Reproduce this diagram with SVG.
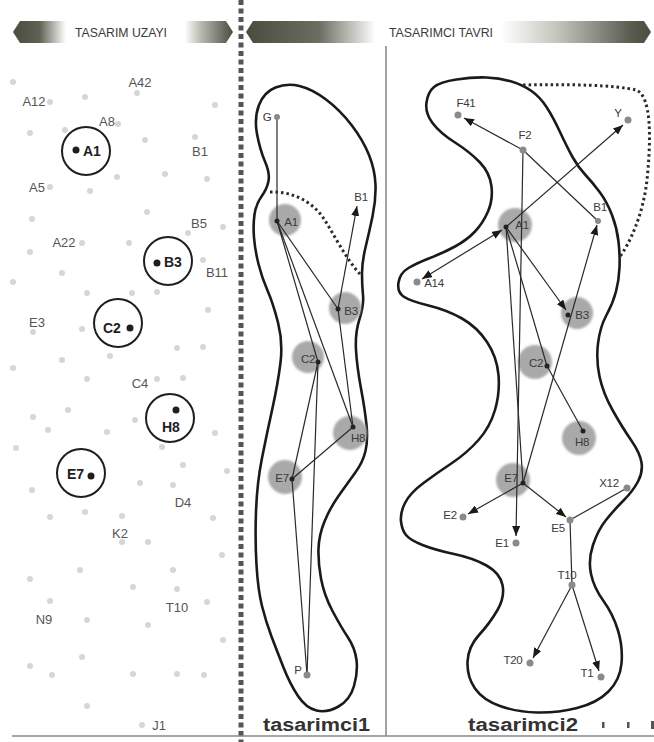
<svg xmlns="http://www.w3.org/2000/svg" width="654" height="742" viewBox="0 0 654 742">
<style>
  text { font-family: "Liberation Sans", Arial, sans-serif; }
  .lbl { font-size: 13px; fill: #555; text-anchor: middle; }
  .big { font-size: 14px; font-weight: bold; fill: #1e1e1e; }
  .nl { font-size: 11.5px; fill: #3a3a3a; text-anchor: middle; letter-spacing: -0.3px; }
  .sd { fill: #d6d6d6; }
  .ring { fill: none; stroke: #1e1e1e; stroke-width: 2; }
  .bd { fill: #1e1e1e; }
  .gc { fill: #a9a9a9; filter: url(#soft); }
  .gd { fill: #8a8a8a; }
  .pt { fill: #222; }
  .blob { fill: none; stroke: #1a1a1a; stroke-width: 2.6; }
  .dots { fill: none; stroke: #2a2a2a; stroke-width: 3; stroke-dasharray: 2.5 3; }
  .e { stroke: #2a2a2a; stroke-width: 1.2; fill: none; }
  .a { marker-end: url(#arr); }
  .ban { font-size: 13px; fill: #3a3a3a; }
  .foot { font-size: 18px; font-weight: bold; fill: #333; }
</style>
<defs>
  <filter id="soft" x="-20%" y="-20%" width="140%" height="140%">
    <feGaussianBlur stdDeviation="1"/>
  </filter>
  <marker id="arr" markerUnits="userSpaceOnUse" markerWidth="10" markerHeight="8" refX="10" refY="4" orient="auto-start-reverse">
    <path d="M0,0 L10,4 L0,8 Z" fill="#1a1a1a"/>
  </marker>
  <linearGradient id="gl" gradientUnits="userSpaceOnUse" x1="13" y1="0" x2="233" y2="0">
    <stop offset="0" stop-color="#4a4c40"/>
    <stop offset="0.12" stop-color="#5f6154"/>
    <stop offset="0.24" stop-color="#ffffff"/>
    <stop offset="0.78" stop-color="#ffffff"/>
    <stop offset="0.86" stop-color="#b4b4ac"/>
    <stop offset="1" stop-color="#4a4c40"/>
  </linearGradient>
  <linearGradient id="gr" gradientUnits="userSpaceOnUse" x1="246" y1="0" x2="651" y2="0">
    <stop offset="0" stop-color="#4a4c40"/>
    <stop offset="0.18" stop-color="#6b6d60"/>
    <stop offset="0.32" stop-color="#ffffff"/>
    <stop offset="0.63" stop-color="#ffffff"/>
    <stop offset="0.77" stop-color="#c4c4bc"/>
    <stop offset="0.95" stop-color="#5a5c50"/>
    <stop offset="1" stop-color="#4a4c40"/>
  </linearGradient>
</defs>
<rect x="0" y="0" width="654" height="742" fill="#ffffff"/>

<!-- headers -->
<g id="header-left">
  <polygon points="13,32 20,21 226,21 233,32 226,43 20,43" fill="url(#gl)"/>
  <text class="ban" x="75" y="37" textLength="92" lengthAdjust="spacingAndGlyphs">TASARIM UZAYI</text>
</g>
<g id="header-right">
  <polygon points="246,32 253,21 644,21 651,32 644,43 253,43" fill="url(#gr)"/>
  <text class="ban" x="389" y="37" textLength="104" lengthAdjust="spacingAndGlyphs">TASARIMCI TAVRI</text>
</g>

<!-- frame lines -->
<g id="frame">
  <line x1="241" y1="0" x2="241" y2="742" stroke="#555" stroke-width="5" stroke-dasharray="5 3.5"/>
  <line x1="386" y1="46" x2="386" y2="736" stroke="#666" stroke-width="1.2"/>
  <line x1="12" y1="736" x2="654" y2="736" stroke="#888" stroke-width="1.5"/>
  <rect x="602" y="722" width="2.5" height="6" fill="#555"/>
  <rect x="627" y="722" width="2.5" height="6" fill="#555"/>
  <rect x="651" y="721" width="3" height="8" fill="#555"/>
</g>

<!-- left panel scatter -->
<g id="scatter">
  <circle class="sd" cx="13" cy="82" r="3"/><circle class="sd" cx="85" cy="97" r="3"/><circle class="sd" cx="215" cy="105" r="3"/>
  <circle class="sd" cx="30" cy="133" r="3"/><circle class="sd" cx="65" cy="130" r="3"/><circle class="sd" cx="145" cy="140" r="3"/>
  <circle class="sd" cx="117" cy="177" r="3"/><circle class="sd" cx="165" cy="174" r="3"/><circle class="sd" cx="207" cy="179" r="3"/>
  <circle class="sd" cx="90" cy="191" r="3"/><circle class="sd" cx="147" cy="212" r="3"/><circle class="sd" cx="32" cy="219" r="3"/>
  <circle class="sd" cx="223" cy="227" r="3"/><circle class="sd" cx="30" cy="252" r="3"/><circle class="sd" cx="129" cy="243" r="3"/>
  <circle class="sd" cx="62" cy="273" r="3"/><circle class="sd" cx="13" cy="282" r="3"/><circle class="sd" cx="87" cy="293" r="3"/>
  <circle class="sd" cx="132" cy="293" r="3"/><circle class="sd" cx="157" cy="292" r="3"/>
  <circle class="sd" cx="82" cy="329" r="3"/><circle class="sd" cx="62" cy="360" r="3"/><circle class="sd" cx="110" cy="356" r="3"/>
  <circle class="sd" cx="177" cy="348" r="3"/><circle class="sd" cx="203" cy="347" r="3"/><circle class="sd" cx="208" cy="310" r="3"/>
  <circle class="sd" cx="13" cy="368" r="3"/><circle class="sd" cx="87" cy="379" r="3"/><circle class="sd" cx="157" cy="379" r="3"/>
  <circle class="sd" cx="183" cy="378" r="3"/><circle class="sd" cx="33" cy="417" r="3"/><circle class="sd" cx="68" cy="410" r="3"/>
  <circle class="sd" cx="48" cy="430" r="3"/><circle class="sd" cx="107" cy="432" r="3"/><circle class="sd" cx="135" cy="420" r="3"/>
  <circle class="sd" cx="215" cy="433" r="3"/><circle class="sd" cx="16" cy="448" r="3"/><circle class="sd" cx="162" cy="447" r="3"/>
  <circle class="sd" cx="183" cy="465" r="3"/><circle class="sd" cx="227" cy="471" r="3"/><circle class="sd" cx="32" cy="490" r="3"/>
  <circle class="sd" cx="140" cy="483" r="3"/><circle class="sd" cx="173" cy="485" r="3"/><circle class="sd" cx="50" cy="517" r="3"/>
  <circle class="sd" cx="85" cy="512" r="3"/><circle class="sd" cx="122" cy="516" r="3"/><circle class="sd" cx="213" cy="518" r="3"/>
  <circle class="sd" cx="122" cy="542" r="3"/><circle class="sd" cx="148" cy="542" r="3"/><circle class="sd" cx="222" cy="555" r="3"/>
  <circle class="sd" cx="80" cy="570" r="3"/><circle class="sd" cx="173" cy="570" r="3"/><circle class="sd" cx="30" cy="579" r="3"/>
  <circle class="sd" cx="133" cy="587" r="3"/><circle class="sd" cx="177" cy="589" r="3"/><circle class="sd" cx="50" cy="601" r="3"/>
  <circle class="sd" cx="207" cy="602" r="3"/><circle class="sd" cx="87" cy="620" r="3"/><circle class="sd" cx="148" cy="625" r="3"/>
  <circle class="sd" cx="223" cy="640" r="3"/><circle class="sd" cx="82" cy="657" r="3"/><circle class="sd" cx="30" cy="666" r="3"/>
  <circle class="sd" cx="133" cy="674" r="3"/><circle class="sd" cx="177" cy="674" r="3"/><circle class="sd" cx="204" cy="675" r="3"/>
  <circle class="sd" cx="52" cy="675" r="3"/><circle class="sd" cx="87" cy="706" r="3"/>
</g>

<!-- left panel labelled points -->
<g id="s-A42"><circle class="sd" cx="137" cy="93" r="3"/><text class="lbl" x="140" y="86.5">A42</text></g>
<g id="s-A12"><circle class="sd" cx="50" cy="102" r="3"/><text class="lbl" x="34" y="105.5">A12</text></g>
<g id="s-A8"><circle class="sd" cx="118" cy="124" r="3"/><text class="lbl" x="107" y="125.5">A8</text></g>
<g id="s-B1"><circle class="sd" cx="195" cy="137" r="3"/><text class="lbl" x="200" y="155.5">B1</text></g>
<g id="s-A5"><circle class="sd" cx="50" cy="187" r="3"/><text class="lbl" x="37" y="191.5">A5</text></g>
<g id="s-B5"><circle class="sd" cx="188" cy="233" r="3"/><text class="lbl" x="199" y="227.5">B5</text></g>
<g id="s-A22"><circle class="sd" cx="82" cy="243" r="3"/><text class="lbl" x="64" y="246.5">A22</text></g>
<g id="s-B11"><circle class="sd" cx="203" cy="260" r="3"/><text class="lbl" x="217" y="276.5">B11</text></g>
<g id="s-E3"><circle class="sd" cx="33" cy="332" r="3"/><text class="lbl" x="37" y="326.5">E3</text></g>
<g id="s-C4"><text class="lbl" x="140" y="387.5">C4</text></g>
<g id="s-D4"><text class="lbl" x="183" y="506.5">D4</text></g>
<g id="s-K2"><text class="lbl" x="120" y="537.5">K2</text></g>
<g id="s-N9"><text class="lbl" x="44" y="623.5">N9</text></g>
<g id="s-T10"><text class="lbl" x="177" y="611.5">T10</text></g>
<g id="s-J1"><circle class="sd" cx="142" cy="725" r="3"/><text class="lbl" x="159" y="729.5">J1</text></g>

<g id="s-A1"><circle class="ring" cx="86" cy="151" r="24"/><circle class="bd" cx="76" cy="150" r="3.5"/><text class="big" x="83" y="156">A1</text></g>
<g id="s-B3"><circle class="ring" cx="168" cy="261" r="24"/><circle class="bd" cx="157" cy="263" r="3.5"/><text class="big" x="164" y="267">B3</text></g>
<g id="s-C2"><circle class="ring" cx="118" cy="323" r="24"/><circle class="bd" cx="130" cy="328" r="3.5"/><text class="big" x="103" y="333">C2</text></g>
<g id="s-H8"><circle class="ring" cx="170" cy="418" r="24"/><circle class="bd" cx="176" cy="410" r="3.5"/><text class="big" x="162" y="432">H8</text></g>
<g id="s-E7"><circle class="ring" cx="81" cy="473" r="24"/><circle class="bd" cx="91" cy="476" r="3.5"/><text class="big" x="67" y="479">E7</text></g>

<!-- middle panel -->
<g id="blob1">
  <path class="blob" d="M 275.5,87.5 Q 287,83 299.5,86 Q 312,89 326,99.5 Q 340,110 351.5,125 Q 363,140 369,155 Q 375,170 375.5,185 Q 376,200 372.5,216.5 Q 369,233 365.5,247.5 Q 362,262 362,273.5 Q 362,285 363,295 Q 364,305 359.5,319 Q 355,333 356,350 Q 357,367 361,388.5 Q 365,410 366.5,425 Q 368,440 365.5,451 Q 363,462 355,473 Q 347,484 338.5,496 Q 330,508 324.5,521.5 Q 319,535 318.5,548.5 Q 318,562 321,578.5 Q 324,595 332.5,611 Q 341,627 348,637.5 Q 355,648 356.5,660 Q 358,672 354,686 Q 350,700 338.5,706.5 Q 327,713 316.5,710.5 Q 306,708 298,696 Q 290,684 283.5,667.5 Q 277,651 271.5,636.5 Q 266,622 262,606 Q 258,590 256.5,565 Q 255,540 256,511.5 Q 257,483 262,458 Q 267,433 272.5,408 Q 278,383 280.5,362.5 Q 283,342 278,322.5 Q 273,303 267.5,290.5 Q 262,278 258.5,264 Q 255,250 254,237.5 Q 253,225 254.5,214.5 Q 256,204 261.5,196.5 Q 267,189 268.5,181 Q 270,173 265,161.5 Q 260,150 257,134 Q 254,118 259,105 Q 264,92 275.5,87.5 Z"/>
  <path class="dots" d="M 270,192 C 290,191 310,200 322,216 C 333,232 345,258 360,274"/>
</g>
<g id="m-circles">
  <circle class="gc" cx="285" cy="220" r="16"/>
  <circle class="gc" cx="345" cy="308" r="16"/>
  <circle class="gc" cx="308" cy="357" r="16"/>
  <circle class="gc" cx="350" cy="433" r="17"/>
  <circle class="gc" cx="285" cy="477" r="17"/>
</g>
<g id="m-edges">
  <line class="e" x1="277" y1="117" x2="277" y2="221"/>
  <line class="e" x1="277" y1="221" x2="338" y2="309"/>
  <line class="e" x1="277" y1="221" x2="318" y2="362"/>
  <line class="e" x1="277" y1="221" x2="353" y2="427"/>
  <line class="e" x1="338" y1="309" x2="353" y2="427"/>
  <line class="e a" x1="338" y1="309" x2="357" y2="206"/>
  <line class="e" x1="318" y1="362" x2="292" y2="479"/>
  <line class="e" x1="353" y1="427" x2="292" y2="479"/>
  <line class="e" x1="318" y1="362" x2="307" y2="675"/>
  <line class="e" x1="292" y1="479" x2="307" y2="675"/>
</g>
<g id="m-G"><circle class="gd" cx="277" cy="117" r="3"/><text class="nl" x="267" y="121">G</text></g>
<g id="m-A1"><circle class="pt" cx="277" cy="221" r="2.5"/><text class="nl" x="291" y="226">A1</text></g>
<g id="m-B1"><text class="nl" x="361" y="201">B1</text></g>
<g id="m-B3"><circle class="pt" cx="338" cy="309" r="2.5"/><text class="nl" x="351" y="315">B3</text></g>
<g id="m-C2"><circle class="pt" cx="318" cy="362" r="2.5"/><text class="nl" x="308" y="363">C2</text></g>
<g id="m-H8"><circle class="pt" cx="353" cy="427" r="2.5"/><text class="nl" x="358" y="442">H8</text></g>
<g id="m-E7"><circle class="pt" cx="292" cy="479" r="2.5"/><text class="nl" x="282" y="482">E7</text></g>
<g id="m-P"><circle class="gd" cx="307" cy="675" r="3.5"/><text class="nl" x="298" y="674">P</text></g>

<!-- right panel -->
<g id="blob2">
  <path class="blob" d="M 434,87 Q 440,82 456.5,79.5 Q 473,77 486.5,77.5 Q 500,78 511.5,81.5 Q 523,85 531.5,91 Q 540,97 546.5,107 Q 553,117 560,132 Q 567,147 572.5,157 Q 578,167 585.5,175 Q 593,183 600,192.5 Q 607,202 612,215 Q 617,228 618.5,241.5 Q 620,255 619.5,267.5 Q 619,280 616,291.5 Q 613,303 606.5,315 Q 600,327 598,343.5 Q 596,360 599.5,376.5 Q 603,393 612.5,410 Q 622,427 631,440 Q 640,453 641.5,462.5 Q 643,472 638,481.5 Q 633,491 623.5,500.5 Q 614,510 606,520 Q 598,530 593,545 Q 588,560 591,574 Q 594,588 603.5,601 Q 613,614 618,630.5 Q 623,647 621.5,663.5 Q 620,680 608.5,691.5 Q 597,703 577,708 Q 557,713 537,712.5 Q 517,712 500,706 Q 483,700 475,688.5 Q 467,677 467.5,662 Q 468,647 479,635 Q 490,623 497.5,610 Q 505,597 502.5,585 Q 500,573 486.5,565.5 Q 473,558 454,554 Q 435,550 422.5,545 Q 410,540 406,535 Q 402,530 401,521.5 Q 400,513 405,503 Q 410,493 423.5,483 Q 437,473 452,463 Q 467,453 478.5,440 Q 490,427 495,410 Q 500,393 498.5,375 Q 497,357 487,342 Q 477,327 462,318.5 Q 447,310 428.5,305.5 Q 410,301 403.5,296.5 Q 397,292 398.5,282.5 Q 400,273 408.5,268 Q 417,263 430,258 Q 443,253 455,246.5 Q 467,240 475,231.5 Q 483,223 488,211.5 Q 493,200 491.5,186.5 Q 490,173 480,162.5 Q 470,152 455,142.5 Q 440,133 432.5,123 Q 425,113 426.5,102.5 Q 428,92 434,87 Z"/>
  <path class="dots" d="M 523,85 C 570,84 615,85 636,90 C 652,96 651,140 647,180 C 643,215 630,243 619,258"/>
</g>
<g id="r-circles">
  <circle class="gc" cx="515" cy="225" r="17"/>
  <circle class="gc" cx="577" cy="313" r="16"/>
  <circle class="gc" cx="535" cy="362" r="17"/>
  <circle class="gc" cx="579" cy="438" r="17"/>
  <circle class="gc" cx="513" cy="480" r="17"/>
</g>
<g id="r-edges">
  <line class="e a" x1="523" y1="150" x2="464" y2="118"/>
  <line class="e" x1="598" y1="221" x2="523" y2="150"/>
  <line class="e a" x1="506" y1="227" x2="623" y2="125"/>
  <line class="e a" x1="502" y1="230" x2="422" y2="279" style="marker-start:url(#arr)"/>
  <line class="e a" x1="506" y1="227" x2="566" y2="310"/>
  <line class="e a" x1="523" y1="483" x2="597" y2="225"/>
  <line class="e a" x1="523" y1="150" x2="516" y2="536"/>
  <line class="e" x1="506" y1="227" x2="523" y2="483"/>
  <line class="e" x1="506" y1="227" x2="547" y2="366"/>
  <line class="e" x1="547" y1="366" x2="583" y2="431"/>
  <line class="e a" x1="523" y1="483" x2="468" y2="514"/>
  <line class="e a" x1="523" y1="483" x2="566" y2="517"/>
  <line class="e" x1="627" y1="488" x2="570" y2="520"/>
  <line class="e" x1="570" y1="520" x2="572" y2="585"/>
  <line class="e a" x1="572" y1="585" x2="533" y2="658"/>
  <line class="e a" x1="572" y1="585" x2="599" y2="671"/>
</g>
<g id="r-F41"><circle class="gd" cx="458" cy="115" r="3.5"/><text class="nl" x="466" y="107">F41</text></g>
<g id="r-F2"><circle class="gd" cx="523" cy="150" r="3.5"/><text class="nl" x="525" y="139">F2</text></g>
<g id="r-Y"><circle class="gd" cx="628" cy="120" r="3.5"/><text class="nl" x="618" y="117">Y</text></g>
<g id="r-B1"><circle class="gd" cx="598" cy="221" r="3"/><text class="nl" x="600" y="211">B1</text></g>
<g id="r-A1"><circle class="pt" cx="506" cy="227" r="2.5"/><text class="nl" x="522" y="229">A1</text></g>
<g id="r-A14"><circle class="gd" cx="417" cy="282" r="3.5"/><text class="nl" x="434" y="287">A14</text></g>
<g id="r-B3"><circle class="pt" cx="568" cy="315" r="2.5"/><text class="nl" x="582" y="319">B3</text></g>
<g id="r-C2"><circle class="pt" cx="547" cy="366" r="2.5"/><text class="nl" x="536" y="367">C2</text></g>
<g id="r-H8"><circle class="pt" cx="583" cy="431" r="2.5"/><text class="nl" x="582" y="446">H8</text></g>
<g id="r-E7"><circle class="pt" cx="523" cy="483" r="2.5"/><text class="nl" x="511" y="482">E7</text></g>
<g id="r-X12"><circle class="gd" cx="627" cy="488" r="3.5"/><text class="nl" x="609" y="487">X12</text></g>
<g id="r-E2"><circle class="gd" cx="463" cy="517" r="3.5"/><text class="nl" x="450" y="519">E2</text></g>
<g id="r-E5"><circle class="gd" cx="570" cy="520" r="3.5"/><text class="nl" x="558" y="532">E5</text></g>
<g id="r-E1"><circle class="gd" cx="516" cy="543" r="3.5"/><text class="nl" x="502" y="547">E1</text></g>
<g id="r-T10"><circle class="gd" cx="572" cy="585" r="3.5"/><text class="nl" x="567" y="579">T10</text></g>
<g id="r-T20"><circle class="gd" cx="530" cy="663" r="3.5"/><text class="nl" x="513" y="664">T20</text></g>
<g id="r-T1"><circle class="gd" cx="601" cy="677" r="3.5"/><text class="nl" x="587" y="677">T1</text></g>

<!-- footers -->
<g id="footer">
  <text class="foot" x="263" y="731" textLength="107" lengthAdjust="spacingAndGlyphs">tasarimci1</text>
  <text class="foot" x="468" y="731" textLength="110" lengthAdjust="spacingAndGlyphs">tasarimci2</text>
</g>
</svg>
